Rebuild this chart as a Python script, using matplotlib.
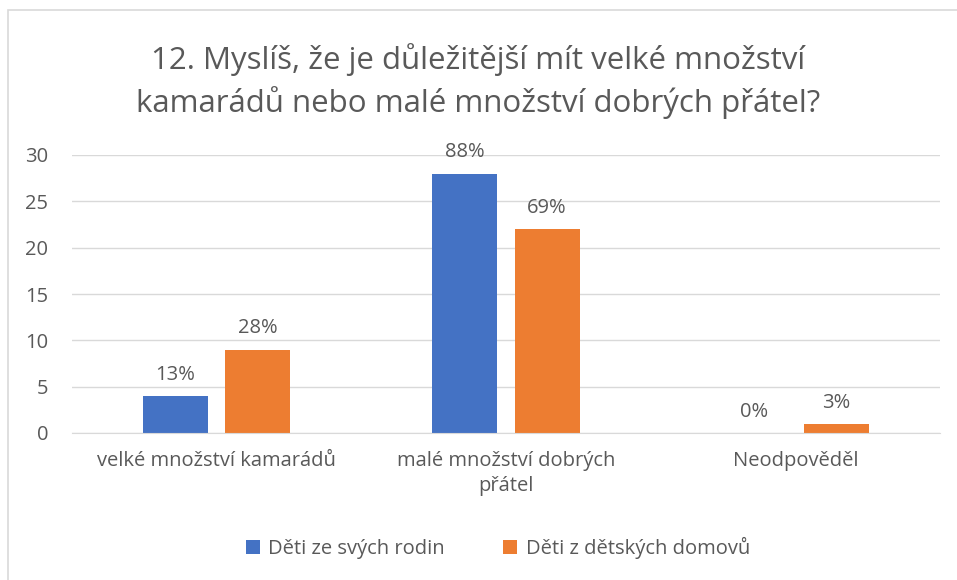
import matplotlib.pyplot as plt
from matplotlib.patches import Rectangle
import numpy as np

plt.rcParams['font.family'] = ['Open Sans', 'DejaVu Sans']

categories = ["velké množství kamarádů", "malé množství dobrých\npřátel", "Neodpověděl"]
series_names = ["Děti ze svých rodin", "Děti z dětských domovů"]
family_vals = [4, 28, 0]
home_vals = [9, 22, 1]
family_pct = ["13%", "88%", "0%"]
home_pct = ["28%", "69%", "3%"]
title = "12. Myslíš, že je důležitější mít velké množství\nkamarádů nebo malé množství dobrých přátel?"

TEXT = "#595959"
GRID = "#d9d9d9"
BLUE = "#4472c4"
ORANGE = "#ed7d31"

fig = plt.figure(figsize=(9.57, 5.8), dpi=100)
W, H = 957, 580
# chart border (right and bottom run off the picture)
fig.patches.append(Rectangle((8 / W, -0.1), 1.2, (H - 10) / H + 0.1, transform=fig.transFigure,
                             fill=False, edgecolor=GRID, linewidth=1.2))

ax = fig.add_axes([72 / W, (H - 433) / H, (940 - 72) / W, (433 - 155) / H])
x = np.arange(len(categories))
bw = 0.225
off = 0.142
b1 = ax.bar(x - off, family_vals, bw, color=BLUE, label=series_names[0])
b2 = ax.bar(x + off, home_vals, bw, color=ORANGE, label=series_names[1])
for bars, labels in ((b1, family_pct), (b2, home_pct)):
    for b, lab in zip(bars, labels):
        ax.text(b.get_x() + b.get_width() / 2, b.get_height() + 1.2, lab,
                ha="center", va="bottom", fontsize=14.5, color=TEXT)

ax.set_xlim(-0.5, 2.5)
ax.set_ylim(0, 30)
ax.set_yticks(range(0, 31, 5))
ax.yaxis.grid(True, color=GRID, linewidth=1)
ax.set_axisbelow(True)
for s in ("top", "right", "left"):
    ax.spines[s].set_visible(False)
ax.spines["bottom"].set_color(GRID)
ax.tick_params(axis="both", length=0, labelsize=14.5, colors=TEXT)
ax.tick_params(axis="y", pad=17)
ax.tick_params(axis="x", pad=13)
ax.set_xticks(x)
ax.set_xticklabels(categories, linespacing=1.35)

fig.text(0.5, (H - 81) / H, title, ha="center", va="center", fontsize=22.5, color=TEXT, linespacing=1.4)

fig.legend(loc="center", bbox_to_anchor=(498 / W, (H - 548) / H), ncol=2, frameon=False,
           fontsize=14.5, labelcolor=TEXT, handlelength=0.7, handleheight=0.7,
           handletextpad=0.4, columnspacing=2.9)

fig.savefig("out.png", dpi=100)
